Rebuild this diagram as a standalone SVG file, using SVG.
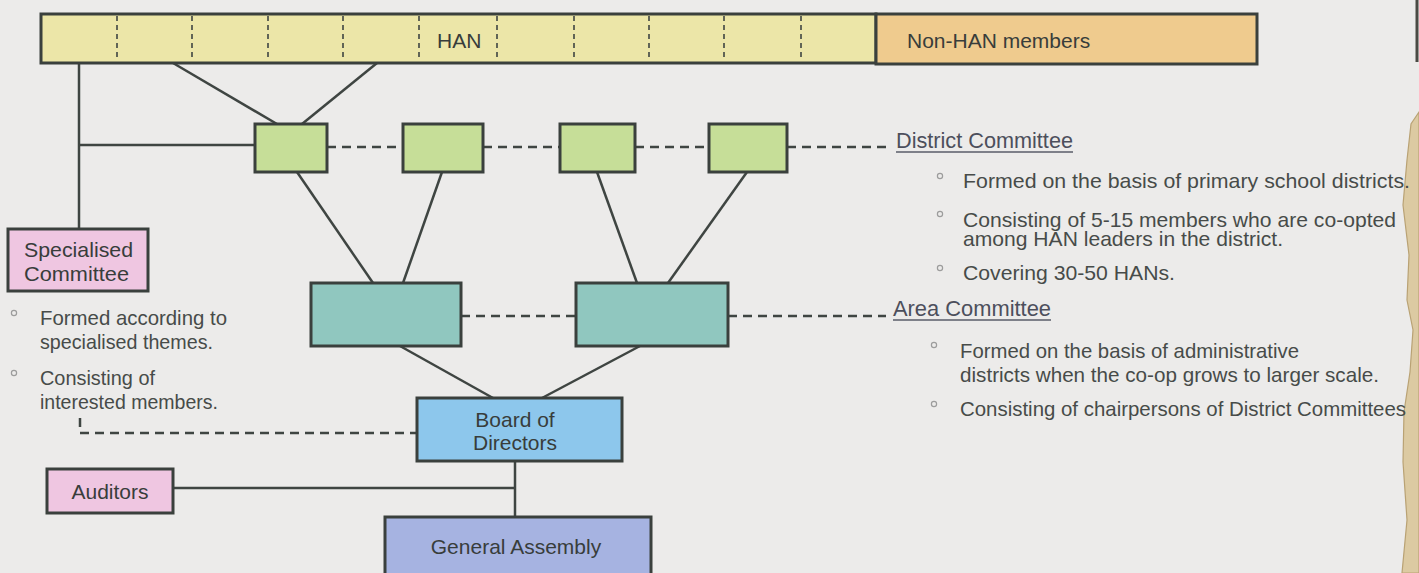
<svg xmlns="http://www.w3.org/2000/svg" width="1419" height="573" viewBox="0 0 1419 573">
  <style>
    .box { stroke: #3a403d; stroke-width: 3; }
    .line { stroke: #3f4542; stroke-width: 2.5; fill: none; }
    .dash { stroke: #3f4542; stroke-width: 2.5; fill: none; stroke-dasharray: 9 6; }
    .div { stroke: #3f4542; stroke-width: 1.6; fill: none; stroke-dasharray: 5 4; }
    .lbl { font-family: "Liberation Sans", Arial, sans-serif; font-size: 21px; fill: #383d3b; }
    .mid { text-anchor: middle; }
    .note { font-family: "Liberation Sans", Arial, sans-serif; font-size: 21px; fill: #474b49; }
    .head { font-family: "Liberation Sans", Arial, sans-serif; font-size: 22px; fill: #4c4f5c; }
    .ul { stroke: #5a5d68; stroke-width: 1.6; }
    .dot { fill: none; stroke: #9c9c9c; stroke-width: 1.2; }
  </style>

  <rect width="1419" height="573" fill="#ecebea"/>

  <!-- paper edge on the right -->
  <g id="page-edge">
    <path d="M1419,112 L1411,124 L1407,160 L1403,205 L1409,255 L1407,300 L1413,330 L1410,372 L1404,412 L1403,462 L1407,520 L1402,573 L1419,573 Z" fill="#dccaa2" stroke="#b9a274" stroke-width="1.2"/>
    <line x1="1417" y1="0" x2="1417" y2="62" stroke="#4a4a44" stroke-width="3"/>
  </g>

  <!-- connectors -->
  <g id="connectors">
    <line class="line" x1="173" y1="63" x2="277" y2="124"/>
    <line class="line" x1="377" y1="63" x2="302" y2="124"/>
    <line class="line" x1="79" y1="63" x2="79" y2="229"/>
    <line class="line" x1="79" y1="145" x2="255" y2="145"/>

    <line class="dash" x1="327" y1="147" x2="403" y2="147"/>
    <line class="dash" x1="483" y1="147" x2="560" y2="147"/>
    <line class="dash" x1="635" y1="147" x2="709" y2="147"/>
    <line class="dash" x1="787" y1="147" x2="886" y2="147"/>

    <line class="line" x1="297" y1="172" x2="373" y2="283"/>
    <line class="line" x1="442" y1="172" x2="403" y2="283"/>
    <line class="line" x1="597" y1="172" x2="637" y2="283"/>
    <line class="line" x1="747" y1="172" x2="668" y2="283"/>

    <line class="dash" x1="461" y1="316" x2="576" y2="316"/>
    <line class="dash" x1="728" y1="316" x2="886" y2="316"/>

    <line class="line" x1="400" y1="346" x2="493" y2="398"/>
    <line class="line" x1="640" y1="346" x2="542" y2="398"/>

    <path class="dash" d="M80,418 L80,433 L417,433"/>

    <line class="line" x1="515" y1="461" x2="515" y2="517"/>
    <line class="line" x1="173" y1="488" x2="515" y2="488"/>
  </g>

  <!-- member bar -->
  <g id="members">
    <rect class="box" x="41" y="14" width="835" height="49" fill="#ece6a8"/>
    <rect class="box" x="876" y="14" width="381" height="50" fill="#efcb8e"/>
    <line class="div" x1="117" y1="16" x2="117" y2="61"/>
    <line class="div" x1="192" y1="16" x2="192" y2="61"/>
    <line class="div" x1="268" y1="16" x2="268" y2="61"/>
    <line class="div" x1="343" y1="16" x2="343" y2="61"/>
    <line class="div" x1="419" y1="16" x2="419" y2="61"/>
    <line class="div" x1="497" y1="16" x2="497" y2="61"/>
    <line class="div" x1="574" y1="16" x2="574" y2="61"/>
    <line class="div" x1="649" y1="16" x2="649" y2="61"/>
    <line class="div" x1="724" y1="16" x2="724" y2="61"/>
    <line class="div" x1="801" y1="16" x2="801" y2="61"/>
    <text class="lbl" x="437" y="48">HAN</text>
    <text class="lbl" x="907" y="48">Non-HAN members</text>
  </g>

  <!-- district committees -->
  <g id="district-1"><rect class="box" x="255" y="124" width="72" height="48" fill="#c6de98"/></g>
  <g id="district-2"><rect class="box" x="403" y="124" width="80" height="48" fill="#c6de98"/></g>
  <g id="district-3"><rect class="box" x="560" y="124" width="75" height="48" fill="#c6de98"/></g>
  <g id="district-4"><rect class="box" x="709" y="124" width="78" height="48" fill="#c6de98"/></g>

  <!-- area committees -->
  <g id="area-1"><rect class="box" x="311" y="283" width="150" height="63" fill="#90c7bf"/></g>
  <g id="area-2"><rect class="box" x="576" y="283" width="152" height="63" fill="#90c7bf"/></g>

  <g id="board">
    <rect class="box" x="417" y="398" width="205" height="63" fill="#8dc7ec"/>
    <text class="lbl mid" x="515" y="427">Board of</text>
    <text class="lbl mid" x="515" y="450">Directors</text>
  </g>

  <g id="assembly">
    <rect class="box" x="385" y="517" width="266" height="70" fill="#a6b3e1"/>
    <text class="lbl mid" x="516" y="554">General Assembly</text>
  </g>

  <g id="auditors">
    <rect class="box" x="47" y="469" width="126" height="44" fill="#efc6e1"/>
    <text class="lbl mid" x="110" y="499">Auditors</text>
  </g>

  <g id="specialised">
    <rect class="box" x="8" y="229" width="140" height="62" fill="#efc6e1"/>
    <text class="lbl" x="24" y="257" textLength="109" lengthAdjust="spacingAndGlyphs">Specialised</text>
    <text class="lbl" x="24" y="281" textLength="105" lengthAdjust="spacingAndGlyphs">Committee</text>
  </g>

  <!-- notes under the specialised committee -->
  <g id="specialised-notes">
    <circle class="dot" cx="14" cy="313" r="2.6"/>
    <text class="note" x="40" y="325" textLength="187" lengthAdjust="spacingAndGlyphs">Formed according to</text>
    <text class="note" x="40" y="349" textLength="173" lengthAdjust="spacingAndGlyphs">specialised themes.</text>
    <circle class="dot" cx="14" cy="373" r="2.6"/>
    <text class="note" x="40" y="385" textLength="115" lengthAdjust="spacingAndGlyphs">Consisting of</text>
    <text class="note" x="40" y="409" textLength="178" lengthAdjust="spacingAndGlyphs">interested members.</text>
  </g>

  <!-- district committee notes -->
  <g id="district-notes">
    <text class="head" x="896" y="148" textLength="177" lengthAdjust="spacingAndGlyphs">District Committee</text>
    <line class="ul" x1="896" y1="152" x2="1073" y2="152"/>
    <circle class="dot" cx="940" cy="176" r="2.6"/>
    <text class="note" x="963" y="188" textLength="447" lengthAdjust="spacingAndGlyphs">Formed on the basis of primary school districts.</text>
    <circle class="dot" cx="940" cy="214" r="2.6"/>
    <text class="note" x="963" y="227" textLength="433" lengthAdjust="spacingAndGlyphs">Consisting of 5-15 members who are co-opted</text>
    <text class="note" x="963" y="246" textLength="320" lengthAdjust="spacingAndGlyphs">among HAN leaders in the district.</text>
    <circle class="dot" cx="940" cy="268" r="2.6"/>
    <text class="note" x="963" y="280" textLength="212" lengthAdjust="spacingAndGlyphs">Covering 30-50 HANs.</text>
  </g>

  <!-- area committee notes -->
  <g id="area-notes">
    <text class="head" x="893" y="316" textLength="158" lengthAdjust="spacingAndGlyphs">Area Committee</text>
    <line class="ul" x1="893" y1="320" x2="1051" y2="320"/>
    <circle class="dot" cx="934" cy="345" r="2.6"/>
    <text class="note" x="960" y="358" textLength="339" lengthAdjust="spacingAndGlyphs">Formed on the basis of administrative</text>
    <text class="note" x="960" y="382" textLength="419" lengthAdjust="spacingAndGlyphs">districts when the co-op grows to larger scale.</text>
    <circle class="dot" cx="934" cy="404" r="2.6"/>
    <text class="note" x="960" y="416" textLength="446" lengthAdjust="spacingAndGlyphs">Consisting of chairpersons of District Committees</text>
  </g>
</svg>
